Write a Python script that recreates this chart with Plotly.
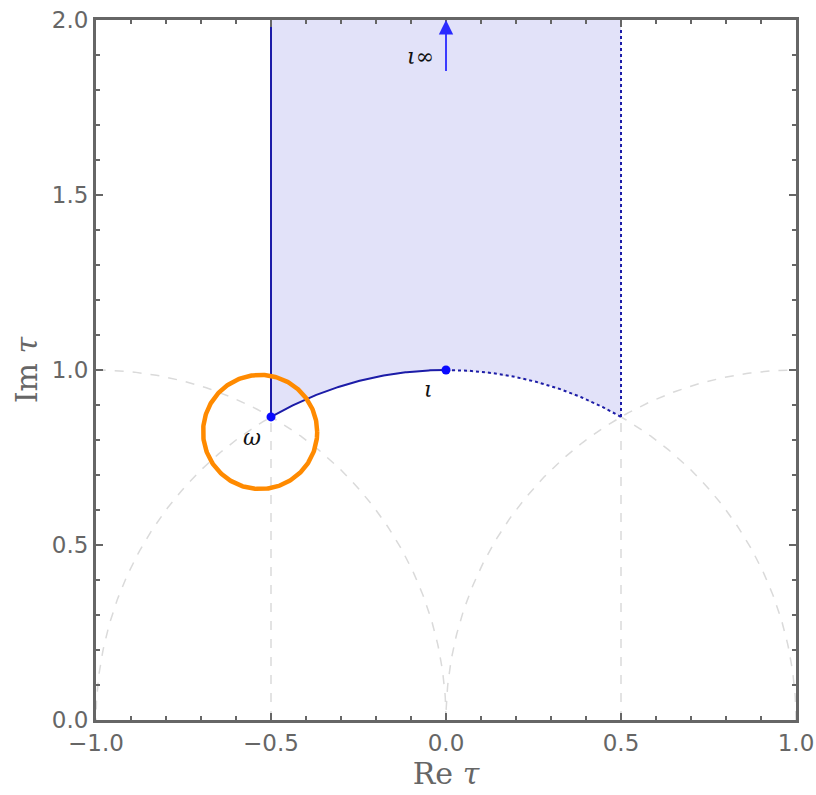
import numpy as np
import plotly.graph_objects as go

# Data
circle_centers = [-1.0, 0.0, 1.0]     # centers of |tau - c| = 1 on the real axis
circle_radius = 1.0
vertical_lines_x = [-0.5, 0.5]
omega = (-0.5, np.sqrt(3) / 2)
rho1 = (0.5, np.sqrt(3) / 2)
i_pt = (0.0, 1.0)
y_top = 2.0
arrow_tail = (0.0, 1.85)
arrow_head = (0.0, 2.0)
highlight_center = (-0.531, 0.823)
highlight_r = 0.163
x_ticks = [-1.0, -0.5, 0.0, 0.5, 1.0]
y_ticks = [0.0, 0.5, 1.0, 1.5, 2.0]

NAVY = "#1c1ca8"
BLUE = "#0a0aff"
GRAY = "#666666"

fig = go.Figure()

# gray dashed circles
for c in circle_centers:
    t = np.linspace(0, np.pi, 300)
    fig.add_trace(go.Scatter(x=c + circle_radius * np.cos(t), y=circle_radius * np.sin(t),
                             mode="lines", line=dict(color="#dadada", width=1.5, dash="dash"),
                             hoverinfo="skip", showlegend=False))
for vx in vertical_lines_x:
    fig.add_trace(go.Scatter(x=[vx, vx], y=[0, omega[1]], mode="lines",
                             line=dict(color="#dadada", width=1.5, dash="dash"),
                             hoverinfo="skip", showlegend=False))

# fundamental domain fill
a_left = np.arccos(omega[0])
a_right = np.arccos(rho1[0])
t = np.linspace(a_left, a_right, 200)
fx = np.concatenate([[omega[0]], np.cos(t), [rho1[0], rho1[0], omega[0]]])
fy = np.concatenate([[y_top], np.sin(t), [rho1[1], y_top, y_top]])
fig.add_trace(go.Scatter(x=fx, y=fy, mode="none", fill="toself",
                         fillcolor="#e2e2f9", hoverinfo="skip", showlegend=False))

# left solid vertical
fig.add_trace(go.Scatter(x=[omega[0], omega[0]], y=[omega[1], y_top], mode="lines",
                         line=dict(color=NAVY, width=2), showlegend=False))
# solid arc omega -> i
t1 = np.linspace(a_left, np.pi / 2, 150)
fig.add_trace(go.Scatter(x=np.cos(t1), y=np.sin(t1), mode="lines",
                         line=dict(color=NAVY, width=2), showlegend=False))
# dotted arc i -> rho+1
t2 = np.linspace(np.pi / 2, a_right, 150)
fig.add_trace(go.Scatter(x=np.cos(t2), y=np.sin(t2), mode="lines",
                         line=dict(color=NAVY, width=2, dash="dot"), showlegend=False))
# dotted right vertical
fig.add_trace(go.Scatter(x=[rho1[0], rho1[0]], y=[rho1[1], y_top], mode="lines",
                         line=dict(color=NAVY, width=2, dash="dot"), showlegend=False))

# points
fig.add_trace(go.Scatter(x=[omega[0], i_pt[0]], y=[omega[1], i_pt[1]], mode="markers",
                         marker=dict(color=BLUE, size=9), showlegend=False))

# highlight circle
th = np.linspace(0, 2 * np.pi, 300)
fig.add_trace(go.Scatter(x=highlight_center[0] + highlight_r * np.cos(th),
                         y=highlight_center[1] + highlight_r * np.sin(th),
                         mode="lines", line=dict(color="#ff8a00", width=4.5),
                         showlegend=False, hoverinfo="skip"))

# arrow
fig.add_annotation(x=arrow_head[0], y=arrow_head[1], ax=arrow_tail[0], ay=arrow_tail[1],
                   xref="x", yref="y", axref="x", ayref="y", text="",
                   showarrow=True, arrowhead=2, arrowsize=1.6, arrowwidth=1.8,
                   arrowcolor="#2a2aff")

lab_font = dict(family="DejaVu Serif", size=22, color="#111111")
fig.add_annotation(x=-0.074, y=1.895, text="<i>ι∞</i>", showarrow=False, font=lab_font)
fig.add_annotation(x=-0.554, y=0.807, text="<i>ω</i>", showarrow=False, font=lab_font)
fig.add_annotation(x=-0.051, y=0.944, text="<i>ι</i>", showarrow=False, font=lab_font)

axis_common = dict(showline=True, linewidth=3, linecolor=GRAY, mirror="ticks",
                   ticks="inside", ticklen=7, tickwidth=2, tickcolor=GRAY,
                   showgrid=False, zeroline=False, automargin=False,
                   ticklabeloverflow="allow",
                   tickfont=dict(family="DejaVu Sans", size=23, color=GRAY),
                   minor=dict(dtick=0.1, ticks="inside", ticklen=4, tickwidth=2,
                              tickcolor=GRAY, showgrid=False))
fig.update_xaxes(range=[-1, 1], tickvals=x_ticks, ticktext=[f"{v:.1f}".replace("-", "−") for v in x_ticks],
                 title=dict(text="Re <i>τ</i>", font=dict(family="DejaVu Serif", size=30, color=GRAY), standoff=6),
                 **axis_common)
fig.update_yaxes(range=[0, 2], tickvals=y_ticks, ticktext=[f"{v:.1f}" for v in y_ticks],
                 title=dict(text="Im <i>τ</i>", font=dict(family="DejaVu Serif", size=30, color=GRAY), standoff=6),
                 **axis_common)

fig.update_layout(width=816, height=795, margin=dict(l=96, r=20, t=20, b=75),
                  plot_bgcolor="white", paper_bgcolor="white")

fig.write_html("out.html", config={"displayModeBar": False},
               post_script="document.body.style.margin='0';")
